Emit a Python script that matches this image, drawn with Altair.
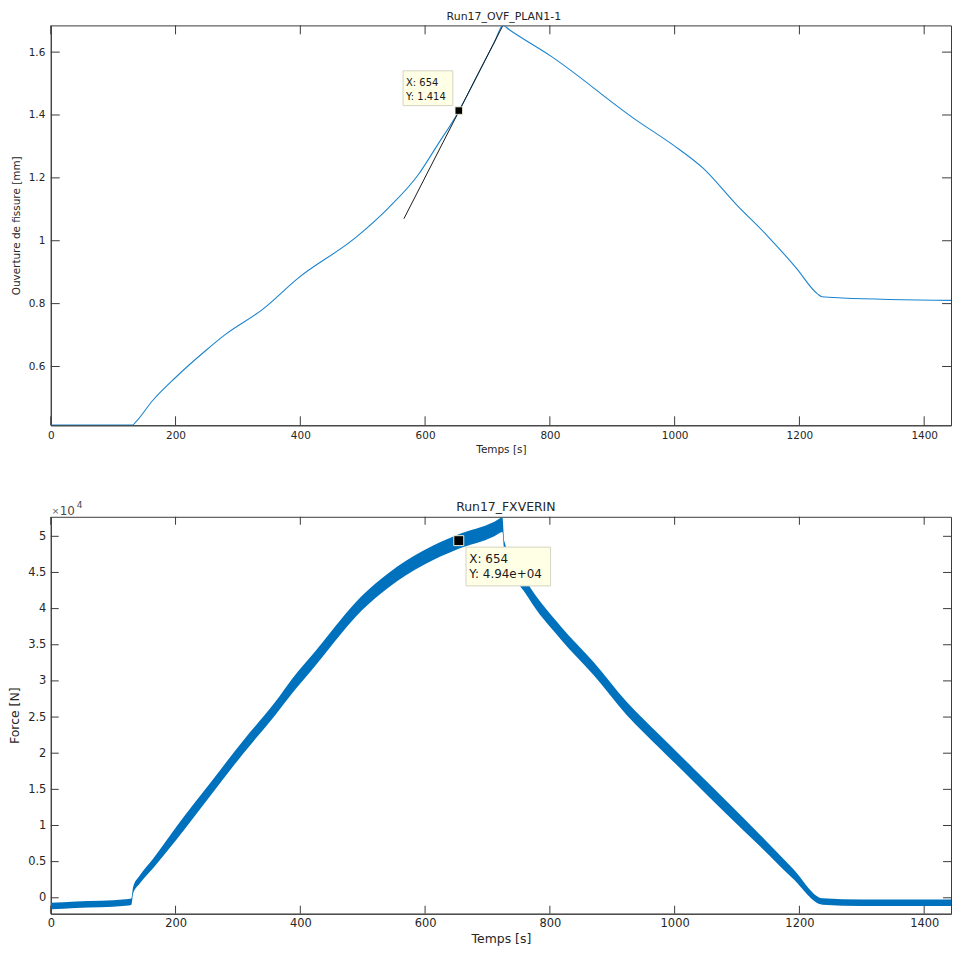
import altair as alt
import pandas as pd

# ---------------- data ----------------
# top panel : crack opening (mm) vs time (s)
t_open = [0, 131, 136, 163, 200, 248, 280, 339, 397, 488, 541, 589, 620, 652, 684,
          711, 725, 735, 801, 939, 998, 1046, 1099, 1149, 1195, 1229, 1236, 1269, 1455]
v_open = [0.414, 0.414, 0.423, 0.491, 0.565, 0.65, 0.702, 0.781, 0.882, 1.009, 1.104,
          1.21, 1.305, 1.405, 1.527, 1.631, 1.685, 1.671, 1.588, 1.383, 1.304, 1.23,
          1.115, 1.015, 0.913, 0.831, 0.822, 0.818, 0.81]
# tangent drawn on the top panel
tan_t = [566, 724]
tan_v = [1.07, 1.682]

# bottom panel : force (N) vs time (s), noisy band given as lower / upper envelope
t_force = [0, 40, 80, 120, 129, 132, 142, 164, 201, 254, 307, 360, 387, 424,
           466, 498, 541, 599, 652, 711, 724, 727, 764, 817, 870, 923, 976,
           1029, 1083, 1136, 1189, 1237, 1300, 1380, 1455]
f_low = [-1600, -1400, -1300, -1100, -1000, 600, 1900, 4100, 8000, 13900,
         19800, 25300, 28300, 32100, 36600, 39700, 42900, 46100, 48200, 50000,
         50600, 47900, 41700, 35800, 30800, 25300, 20700, 16200, 11600, 7200,
         2700, -950, -1150, -1150, -1150]
f_high = [-700, -500, -400, -200, -100, 1500, 3000, 5400, 9800, 15700, 21600,
          27100, 30300, 34100, 38600, 41700, 44900, 48100, 50200, 52000, 52600,
          49300, 43500, 37600, 32600, 27100, 22500, 18000, 13400, 8800, 4100,
          -50, -250, -250, -250]

# data tips
tip_t = [654]
tip_open = [1.414]
tip_force = [49400]
tip_open_text = ["X: 654", "Y: 1.414"]
tip_force_text = ["X: 654", "Y: 4.94e+04"]

# titles and axes
titles = ["Run17_OVF_PLAN1-1", "Run17_FXVERIN"]
x_ticks = [0, 200, 400, 600, 800, 1000, 1200, 1400]
y_ticks_open = [0.6, 0.8, 1.0, 1.2, 1.4, 1.6]
y_ticks_force = [0, 5000, 10000, 15000, 20000, 25000, 30000, 35000, 40000, 45000, 50000]

# ---------------- style ----------------
FONT = "DejaVu Sans"
TXT = "#262626"
AX = "#3a3a3a"
BLUE = "#0072BD"
W = 905
H1 = 402
H2 = 399

xs = alt.Scale(domain=[0, 1443], nice=False, zero=False)
ys_top = alt.Scale(domain=[0.413, 1.685], nice=False, zero=False)
ys_bot = alt.Scale(domain=[-2200, 52700], nice=False, zero=False)

ax_x_top = alt.Axis(values=x_ticks, title="Temps [s]", ticks=False, labelFlush=False,
                    labelOverlap=False, labelFontSize=10.5, titleFontSize=10.5,
                    labelPadding=5, titlePadding=4, format="d")
ax_y_top = alt.Axis(values=y_ticks_open, title="Ouverture de fissure [mm]", ticks=False,
                    format=".1~f", labelFontSize=10.5, titleFontSize=10.5,
                    labelPadding=6, titlePadding=7)
ax_x_bot = alt.Axis(values=x_ticks, title="Temps [s]", ticks=False, labelFlush=False,
                    labelOverlap=False, labelFontSize=11.5, titleFontSize=12.5,
                    labelPadding=4, titlePadding=3, format="d")
ax_y_bot = alt.Axis(values=y_ticks_force, title="Force [N]", ticks=False,
                    labelExpr="format(datum.value / 10000, '.2~g')",
                    labelFontSize=11.5, titleFontSize=12.5, labelPadding=5, titlePadding=6)


def tick_layers(y_field, y_scale, y_vals, tick_len, ax_x, ax_y, H):
    xt = pd.DataFrame({"t": x_ticks})
    yt = pd.DataFrame({y_field: y_vals})
    bottom = alt.Chart(xt).mark_rule(color=AX, strokeWidth=1).encode(
        x=alt.X("t:Q", scale=xs, axis=ax_x), y=alt.value(H), y2=alt.value(H - tick_len))
    top = alt.Chart(xt).mark_rule(color=AX, strokeWidth=1).encode(
        x=alt.X("t:Q", scale=xs, axis=ax_x), y=alt.value(0), y2=alt.value(tick_len))
    left = alt.Chart(yt).mark_rule(color=AX, strokeWidth=1).encode(
        y=alt.Y(f"{y_field}:Q", scale=y_scale, axis=ax_y), x=alt.value(0), x2=alt.value(tick_len))
    right = alt.Chart(yt).mark_rule(color=AX, strokeWidth=1).encode(
        y=alt.Y(f"{y_field}:Q", scale=y_scale, axis=ax_y), x=alt.value(W - tick_len), x2=alt.value(W))
    return [bottom, top, left, right]


def title_layer(text, size, xoff, ybase):
    return alt.Chart(pd.DataFrame({"s": [text]})).mark_text(
        align="center", baseline="alphabetic", font=FONT, fontSize=size, color=TXT).encode(
        x=alt.value(W / 2 + xoff), y=alt.value(ybase), text="s:N")


# ---------------- top panel ----------------
df_open = pd.DataFrame({"t": t_open, "v": v_open})
df_tan = pd.DataFrame({"t": tan_t, "v": tan_v})
df_tip1 = pd.DataFrame({"t": tip_t, "v": tip_open})

X1 = alt.X("t:Q", scale=xs, axis=ax_x_top)
Y1 = alt.Y("v:Q", scale=ys_top, axis=ax_y_top)

line_open = alt.Chart(df_open).mark_line(color="#1a84cf", strokeWidth=1.1, clip=True,
                                         interpolate="monotone").encode(x=X1, y=Y1)
tangent = alt.Chart(df_tan).mark_line(color="#1a1a1a", strokeWidth=1, clip=True).encode(x=X1, y=Y1)

box1 = alt.Chart(df_tip1).mark_rect(fill="#ffffe6", stroke="#d4d4c4", strokeWidth=1,
                                    width=50, height=35, xOffset=-31, yOffset=-22.5).encode(x=X1, y=Y1)
txt1a = alt.Chart(df_tip1.assign(s=tip_open_text[0])).mark_text(
    align="left", baseline="alphabetic", dx=-53, dy=-25, font=FONT, fontSize=10,
    color="#1a1a1a").encode(x=X1, y=Y1, text="s:N")
txt1b = alt.Chart(df_tip1.assign(s=tip_open_text[1])).mark_text(
    align="left", baseline="alphabetic", dx=-53, dy=-11, font=FONT, fontSize=10,
    color="#1a1a1a").encode(x=X1, y=Y1, text="s:N")
mark1 = alt.Chart(df_tip1).mark_square(size=56, color="black", opacity=1, stroke="#f4f4dc",
                                       strokeWidth=0.8).encode(x=X1, y=Y1)

top = alt.layer(
    line_open, tangent, *tick_layers("v", ys_top, y_ticks_open, 9, ax_x_top, ax_y_top, H1),
    box1, txt1a, txt1b, mark1, title_layer(titles[0], 11, 3, -5.5)
).properties(width=W, height=H1)

# ---------------- bottom panel ----------------
df_force = pd.DataFrame({"t": t_force, "lo": f_low, "hi": f_high})
df_tip2 = pd.DataFrame({"t": tip_t, "f": tip_force})

X2 = alt.X("t:Q", scale=xs, axis=ax_x_bot)
Y2 = alt.Y("f:Q", scale=ys_bot, axis=ax_y_bot)

band = alt.Chart(df_force).mark_area(color=BLUE, opacity=1, clip=True,
                                     interpolate="monotone").encode(
    x=X2, y=alt.Y("hi:Q", scale=ys_bot, axis=ax_y_bot), y2="lo:Q")

exp_a = alt.Chart(pd.DataFrame({"s": ["×"]})).mark_text(
    align="left", baseline="alphabetic", font=FONT, fontSize=9, color="#5a5a5a").encode(
    x=alt.value(1), y=alt.value(-3), text="s:N")
exp_b = alt.Chart(pd.DataFrame({"s": ["10"]})).mark_text(
    align="left", baseline="alphabetic", font=FONT, fontSize=12, color="#4a4a4a").encode(
    x=alt.value(9), y=alt.value(-2), text="s:N")
exp_c = alt.Chart(pd.DataFrame({"s": ["4"]})).mark_text(
    align="left", baseline="alphabetic", font=FONT, fontSize=9, color="#4a4a4a").encode(
    x=alt.value(26), y=alt.value(-9), text="s:N")

box2 = alt.Chart(df_tip2).mark_rect(fill="#ffffe6", stroke="#d4d4c4", strokeWidth=1,
                                    width=85, height=39, xOffset=49.8, yOffset=26).encode(x=X2, y=Y2)
txt2a = alt.Chart(df_tip2.assign(s=tip_force_text[0])).mark_text(
    align="left", baseline="alphabetic", dx=10.6, dy=22.6, font=FONT, fontSize=12,
    color="#1a1a1a").encode(x=X2, y=Y2, text="s:N")
txt2b = alt.Chart(df_tip2.assign(s=tip_force_text[1])).mark_text(
    align="left", baseline="alphabetic", dx=10.6, dy=38, font=FONT, fontSize=12,
    color="#1a1a1a").encode(x=X2, y=Y2, text="s:N")
mark2 = alt.Chart(df_tip2).mark_square(size=100, color="black", opacity=1, stroke="#f4f4dc",
                                       strokeWidth=1).encode(x=X2, y=Y2)

bottom = alt.layer(
    band, *tick_layers("f", ys_bot, y_ticks_force, 8, ax_x_bot, ax_y_bot, H2),
    exp_a, exp_b, exp_c, box2, txt2a, txt2b, mark2, title_layer(titles[1], 12.5, 5, -6)
).properties(width=W, height=H2)

chart = alt.vconcat(top, bottom, spacing=44).properties(
    padding={"left": 0, "top": 0, "right": 0, "bottom": 0}
).configure_view(
    stroke=AX, strokeWidth=1
).configure_axis(
    domainColor=AX, domainWidth=1, grid=False, labelColor=TXT, titleColor=TXT,
    labelFont=FONT, titleFont=FONT, titleFontWeight="normal"
)

chart.save("out.html", embed_options={"renderer": "svg", "actions": False})
